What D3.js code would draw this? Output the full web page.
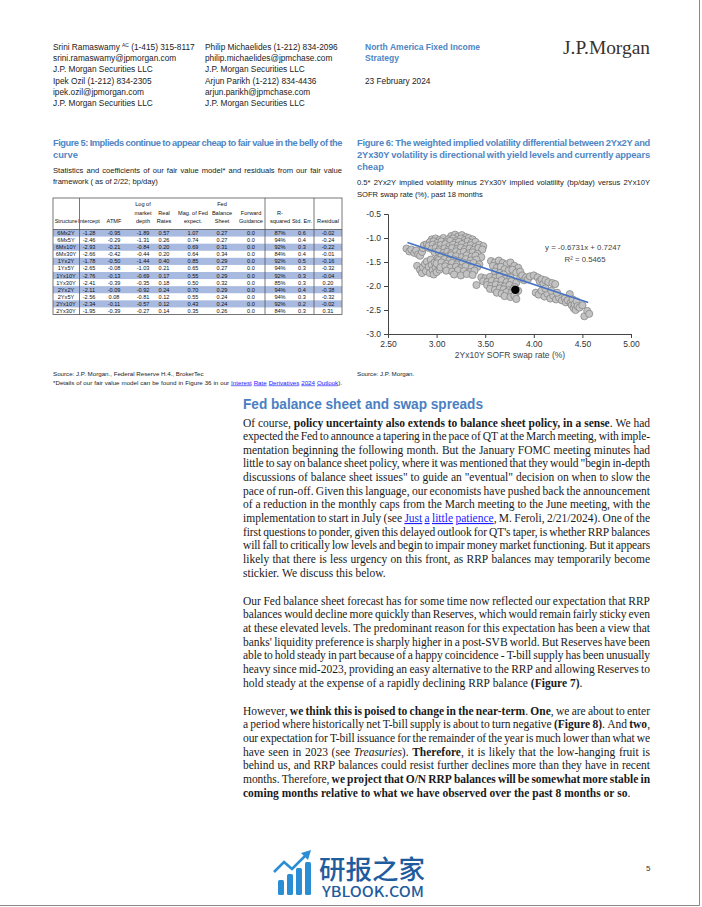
<!DOCTYPE html>
<html>
<head>
<meta charset="utf-8">
<script src="https://cdn.jsdelivr.net/npm/d3@7"></script>
<style>
  body { margin: 0; background: #fff; }
  svg { display: block; }
</style>
</head>
<body>
<svg id="page" width="702" height="907"></svg>
<script>

// ---- data ----

// figure 5 table
var tableCols = ["Structure", "Intercept", "ATMF", "Log of market depth", "Real Rates", "Mag. of Fed expect.",
  "Fed Balance Sheet", "Forward Guidance", "R-squared", "Std. Err.", "Residual"];
var tableHead = [
  ["", "", "Structure"], ["", "", "Intercept"], ["", "", "ATMF"], ["Log of", "market", "depth"],
  ["", "Real", "Rates"], ["", "Mag. of Fed", "expect."], ["Fed", "Balance", "Sheet"],
  ["", "Forward", "Guidance"], ["", "R-", "squared"], ["", "", "Std. Err."], ["", "", "Residual"]
];
var tableRows = [
  ["6Mx2Y", "-1.28", "-0.95", "-1.89", "0.57", "1.07", "0.27", "0.0", "87%", "0.6", "-0.02"],
  ["6Mx5Y", "-2.46", "-0.29", "-1.31", "0.26", "0.74", "0.27", "0.0", "94%", "0.4", "-0.24"],
  ["6Mx10Y", "-2.93", "-0.21", "-0.84", "0.20", "0.69", "0.31", "0.0", "92%", "0.3", "-0.22"],
  ["6Mx30Y", "-2.66", "-0.42", "-0.44", "0.20", "0.64", "0.34", "0.0", "84%", "0.4", "-0.01"],
  ["1Yx2Y", "-1.78", "-0.50", "-1.44", "0.40", "0.85", "0.29", "0.0", "92%", "0.5", "-0.16"],
  ["1Yx5Y", "-2.65", "-0.08", "-1.03", "0.21", "0.65", "0.27", "0.0", "94%", "0.3", "-0.32"],
  ["1Yx10Y", "-2.76", "-0.13", "-0.69", "0.17", "0.55", "0.29", "0.0", "92%", "0.3", "-0.04"],
  ["1Yx30Y", "-2.41", "-0.39", "-0.35", "0.18", "0.50", "0.32", "0.0", "85%", "0.3", "0.20"],
  ["2Yx2Y", "-2.11", "-0.09", "-0.92", "0.24", "0.70", "0.29", "0.0", "94%", "0.4", "-0.38"],
  ["2Yx5Y", "-2.56", "0.08", "-0.81", "0.12", "0.55", "0.24", "0.0", "94%", "0.3", "-0.32"],
  ["2Yx10Y", "-2.34", "-0.11", "-0.57", "0.12", "0.43", "0.24", "0.0", "92%", "0.2", "-0.02"],
  ["2Yx30Y", "-1.95", "-0.39", "-0.27", "0.14", "0.35", "0.26", "0.0", "84%", "0.3", "0.31"]
];

// figure 6 scatter: [2Yx10Y SOFR swap rate, weighted vol differential]
var volPts = [
  [2.69,-1.22],[2.72,-1.28],[2.74,-1.24],[2.77,-1.31],[2.79,-1.26],[2.81,-1.34],[2.83,-1.37],[2.85,-1.29],
  [2.86,-1.21],[2.87,-1.15],[2.90,-1.13],[2.91,-1.20],
  [2.80,-1.58],[2.83,-1.66],[2.85,-1.73],[2.86,-1.61],[2.88,-1.54],[2.89,-1.69],[2.90,-1.49],[2.92,-1.60],
  [2.93,-1.73],[2.94,-1.45],[2.95,-1.56],[2.96,-1.67],[2.97,-1.76],[2.98,-1.51],[2.99,-1.62],[3.00,-1.71],
  [3.01,-1.41],[3.02,-1.57],[3.03,-1.66],
  [3.15,-0.96],[3.19,-0.93],[3.22,-0.97],[3.26,-0.94],[3.30,-0.98],
  [2.95,-1.03],[2.99,-1.01],[3.03,-1.04],[3.07,-1.00],[3.12,-1.03],[3.17,-1.01],[3.21,-1.05],[3.25,-1.01],
  [3.29,-1.04],[3.33,-1.00],[3.37,-1.03],
  [2.93,-1.09],[2.97,-1.07],[3.01,-1.10],[3.05,-1.07],[3.10,-1.09],[3.14,-1.06],[3.19,-1.10],[3.23,-1.08],
  [3.28,-1.11],[3.32,-1.07],[3.36,-1.10],[3.40,-1.08],
  [2.92,-1.16],[2.96,-1.14],[3.00,-1.17],[3.04,-1.15],[3.09,-1.13],[3.13,-1.17],[3.17,-1.14],[3.22,-1.16],
  [3.26,-1.13],[3.31,-1.17],[3.35,-1.15],[3.40,-1.18],[3.44,-1.14],[3.48,-1.17],
  [2.95,-1.23],[2.99,-1.21],[3.03,-1.24],[3.08,-1.22],[3.12,-1.25],[3.16,-1.21],[3.21,-1.23],[3.25,-1.20],
  [3.29,-1.24],[3.34,-1.22],[3.38,-1.25],[3.43,-1.21],[3.47,-1.24],
  [2.98,-1.30],[3.02,-1.28],[3.07,-1.31],[3.11,-1.29],[3.15,-1.32],[3.20,-1.28],[3.24,-1.31],[3.28,-1.29],
  [3.33,-1.32],[3.37,-1.30],[3.42,-1.33],
  [3.05,-1.37],[3.10,-1.39],[3.15,-1.36],[3.20,-1.38],[3.26,-1.40],[3.31,-1.36],[3.36,-1.39],[3.40,-1.37],[3.46,-1.40],
  [3.02,-1.46],[3.08,-1.44],[3.13,-1.47],[3.18,-1.45],[3.23,-1.48],[3.30,-1.44],[3.35,-1.47],[3.41,-1.45],
  [3.00,-1.53],[3.05,-1.51],[3.10,-1.54],[3.16,-1.52],[3.21,-1.55],[3.27,-1.51],[3.33,-1.54],[3.38,-1.52],[3.44,-1.55],
  [3.04,-1.61],[3.09,-1.59],[3.14,-1.62],[3.20,-1.60],[3.25,-1.63],[3.30,-1.59],[3.36,-1.62],[3.42,-1.60],
  [3.10,-1.68],[3.16,-1.70],[3.22,-1.67],[3.28,-1.69],[3.34,-1.71],[3.39,-1.68],
  [3.18,-1.76],[3.25,-1.78],[3.31,-1.75],[3.37,-1.77],[3.41,-1.98],
  [3.56,-1.48],[3.60,-1.51],[3.64,-1.47],[3.68,-1.52],[3.72,-1.55],[3.76,-1.51],[3.80,-1.58],[3.84,-1.62],
  [3.58,-1.58],[3.62,-1.62],[3.66,-1.60],[3.70,-1.65],[3.74,-1.68],[3.78,-1.66],[3.82,-1.72],[3.86,-1.70],
  [3.60,-1.70],[3.65,-1.73],[3.69,-1.76],
  [3.46,-1.82],[3.50,-1.84],[3.55,-1.81],[3.60,-1.83],[3.65,-1.80],[3.71,-1.84],[3.76,-1.82],
  [3.48,-1.90],[3.52,-1.92],[3.57,-1.89],[3.62,-1.91],[3.67,-1.88],[3.72,-1.92],[3.77,-1.90],[3.82,-1.93],
  [3.52,-1.98],[3.56,-2.00],[3.61,-1.97],[3.66,-1.99],[3.70,-2.01],[3.75,-1.98],[3.80,-2.02],
  [3.55,-2.06],[3.60,-2.08],[3.65,-2.05],[3.69,-2.07],[3.74,-2.09],[3.79,-2.06],[3.84,-2.10],
  [3.62,-2.14],[3.67,-2.16],[3.72,-2.13],[3.77,-2.15],[3.81,-2.18],
  [3.70,-2.21],[3.76,-2.23],[3.80,-2.20],[3.82,-2.27],
  [3.86,-1.84],[3.88,-1.78],[3.90,-1.88],[3.92,-1.82],[3.94,-1.86],[3.96,-1.80],[4.00,-1.78],[4.04,-1.82],
  [4.06,-1.90],[4.08,-1.86],[4.10,-1.95],[4.12,-1.88],[4.15,-1.92],[4.19,-1.94],[4.22,-1.96],
  [4.02,-2.14],[4.05,-2.18],[4.08,-2.10],[4.11,-2.22],[4.14,-2.16],[4.17,-2.26],[4.20,-2.20],[4.23,-2.28],
  [4.26,-2.24],[4.29,-2.30],[4.32,-2.26],[4.12,-2.05],[4.18,-2.10],[4.24,-2.14],
  [4.37,-2.17],[4.33,-2.34],[4.35,-2.30],[4.38,-2.35],[4.39,-2.40],[4.40,-2.28],[4.41,-2.46],[4.42,-2.38],
  [4.43,-2.50],[4.44,-2.32],[4.45,-2.42],[4.47,-2.45],[4.50,-2.40],[4.52,-2.63],[4.55,-2.52],[4.57,-2.58]
];
var latestPt = [3.81, -2.08];
var fitSlope = -0.6731, fitIntercept = 0.7247, fitRange = [2.70, 4.56];
var xTicks = [2.5, 3.0, 3.5, 4.0, 4.5, 5.0];
var yTicks = [-0.5, -1.0, -1.5, -2.0, -2.5, -3.0];

// page text (~ bold, _ italic, [ ] link, ^ superscript)
var para1 = [
  "Of course, ~policy uncertainty also extends to balance sheet policy, in a sense~. We had",
  "expected the Fed to announce a tapering in the pace of QT at the March meeting, with imple-",
  "mentation beginning the following month. But the January FOMC meeting minutes had",
  "little to say on balance sheet policy, where it was mentioned that they would \"begin in-depth",
  "discussions of balance sheet issues\" to guide an \"eventual\" decision on when to slow the",
  "pace of run-off. Given this language, our economists have pushed back the announcement",
  "of a reduction in the monthly caps from the March meeting to the June meeting, with the",
  "implementation to start in July (see [Just a little patience], M. Feroli, 2/21/2024). One of the",
  "first questions to ponder, given this delayed outlook for QT's taper, is whether RRP balances",
  "will fall to critically low levels and begin to impair money market functioning. But it appears",
  "likely that there is less urgency on this front, as RRP balances may temporarily become",
  "stickier. We discuss this below."
];
var para2 = [
  "Our Fed balance sheet forecast has for some time now reflected our expectation that RRP",
  "balances would decline more quickly than Reserves, which would remain fairly sticky even",
  "at these elevated levels. The predominant reason for this expectation has been a view that",
  "banks' liquidity preference is sharply higher in a post-SVB world. But Reserves have been",
  "able to hold steady in part because of a happy coincidence - T-bill supply has been unusually",
  "heavy since mid-2023, providing an easy alternative to the RRP and allowing Reserves to",
  "hold steady at the expense of a rapidly declining RRP balance ~(Figure 7)~."
];
var para3 = [
  "However, ~we think this is poised to change in the near-term~. ~One~, we are about to enter",
  "a period where historically net T-bill supply is about to turn negative ~(Figure 8)~. And ~two~,",
  "our expectation for T-bill issuance for the remainder of the year is much lower than what we",
  "have seen in 2023 (see _Treasuries_). ~Therefore~, it is likely that the low-hanging fruit is",
  "behind us, and RRP balances could resist further declines more than they have in recent",
  "months. Therefore, ~we project that O/N RRP balances will be somewhat more stable in~",
  "~coming months relative to what we have observed over the past 8 months or so~."
];

var blue = "#4f86c4";
var sans = "Liberation Sans, Arial, sans-serif";
var serif = "Liberation Serif, Times New Roman, serif";

var svg = d3.select("#page");
svg.append("rect").attr("width", 702).attr("height", 907).attr("fill", "#fff");

// split a marked-up line into words made of styled pieces
function parseLine(line) {
  var words = [], segs = [], cur = "", st = {b: false, i: false, a: false, s: false};
  function push() {
    if (cur) segs.push({t: cur, b: st.b, i: st.i, a: st.a, s: st.s});
    cur = "";
  }
  for (var k = 0; k < line.length; k++) {
    var c = line[k];
    if (c == "~") { push(); st.b = !st.b; }
    else if (c == "_") { push(); st.i = !st.i; }
    else if (c == "[") { push(); st.a = true; }
    else if (c == "]") { push(); st.a = false; }
    else if (c == "^") { push(); st.s = !st.s; }
    else if (c == " ") { push(); if (segs.length) words.push(segs); segs = []; }
    else cur += c;
  }
  push();
  if (segs.length) words.push(segs);
  return words;
}

// lays out lines word by word, justified to o.w where asked
function textBlock(lines, o) {
  lines.forEach(function(line, i) {
    var row = svg.append("g");
    var words = parseLine(line);
    var chars = words.map(function(segs) { return d3.sum(segs, function(s) { return s.t.length; }); });
    var texts = words.map(function(segs) {
      var t = row.append("text")
        .attr("y", o.y + i * (o.lh || 0))
        .attr("font-family", o.font)
        .attr("font-size", o.size)
        .attr("font-weight", o.weight || "normal")
        .attr("fill", o.color);
      segs.forEach(function(s) {
        var ts = t.append("tspan").text(s.t);
        if (s.b) ts.attr("font-weight", "bold");
        if (s.i) ts.attr("font-style", "italic");
        if (s.a) ts.attr("fill", "#1a1aff").attr("text-decoration", "underline");
        if (s.s) ts.attr("font-size", o.size * 0.6).attr("baseline-shift", "super");
      });
      return t;
    });
    var wd = texts.map(function(t) { return t.node().getComputedTextLength(); });
    var n = texts.length, sum = d3.sum(wd);
    var sp = o.size * (o.space || 0.27), gap = sp;
    var last = i == lines.length - 1 && !o.all;
    if (o.justify && !last && n > 1) gap = (o.w - sum) / (n - 1);
    if (o.w && (gap < sp * 0.75 || sum + gap * (n - 1) > o.w)) {
      gap = Math.min(gap, sp);
      if (gap < sp * 0.75) gap = sp * 0.75;
      var over = sum + gap * (n - 1) - o.w;
      if (over > 0) {
        var ls = -over / d3.sum(chars);
        texts.forEach(function(t, k) { t.attr("letter-spacing", ls); wd[k] += ls * chars[k]; });
      }
    }
    var cx = 0;
    texts.forEach(function(t, k) { t.attr("x", cx); cx += wd[k] + gap; });
    row.attr("transform", "translate(" + o.x + ",0)");
  });
}

// ---- page header ----
var hdr = {size: 8.3, font: sans, color: "#222", lh: 11};
textBlock(["Srini Ramaswamy ^AC^ (1-415) 315-8117", "srini.ramaswamy@jpmorgan.com", "J.P. Morgan Securities LLC"],
  Object.assign({x: 53, y: 50}, hdr));
textBlock(["Ipek Ozil  (1-212) 834-2305", "ipek.ozil@jpmorgan.com", "J.P. Morgan Securities LLC"],
  Object.assign({x: 53, y: 84}, hdr));
textBlock(["Philip Michaelides  (1-212) 834-2096", "philip.michaelides@jpmchase.com", "J.P. Morgan Securities LLC"],
  Object.assign({x: 205, y: 50}, hdr));
textBlock(["Arjun Parikh  (1-212) 834-4436", "arjun.parikh@jpmchase.com", "J.P. Morgan Securities LLC"],
  Object.assign({x: 205, y: 84}, hdr));
textBlock(["North America Fixed Income", "Strategy"],
  {x: 365, y: 50, lh: 11, size: 8.5, font: sans, color: blue, weight: "bold"});
textBlock(["23 February 2024"], Object.assign({x: 365, y: 84}, hdr));

svg.append("text")
  .attr("x", 563).attr("y", 54)
  .attr("font-family", serif).attr("font-size", 19)
  .attr("fill", "#3b302b")
  .attr("textLength", 87).attr("lengthAdjust", "spacingAndGlyphs")
  .text("J.P.Morgan");

// ---- figure 5: fair value table ----
textBlock(["Figure 5: Implieds continue to appear cheap to fair value in the belly of the", "curve"],
  {x: 53, y: 146, w: 289, lh: 12, size: 9.3, font: sans, color: blue, weight: "bold", justify: true});
textBlock(["Statistics and coefficients of our fair value model* and residuals from our fair value",
  "framework ( as of 2/22; bp/day)"],
  {x: 53, y: 172.5, w: 289, lh: 11.5, size: 7.6, font: sans, color: "#222", justify: true});

var colX = [66, 89, 114, 143, 164, 193, 222, 251, 280, 302, 328];
var tbl = {left: 53, right: 342, top: 198, headBottom: 229.5, bottom: 314.5};

var rowY = d3.scaleBand()
  .domain(tableRows.map(function(d) { return d[0]; }))
  .range([tbl.headBottom, tbl.bottom]);

var tg = svg.append("g").attr("class", "table");

tg.selectAll(".band")
  .data(tableRows.filter(function(d, i) { return i % 2 == 0; }))
  .enter().append("rect")
    .attr("x", tbl.left)
    .attr("y", function(d) { return rowY(d[0]); })
    .attr("width", tbl.right - tbl.left)
    .attr("height", rowY.bandwidth())
    .attr("fill", "#a9bae0");

tableHead.forEach(function(lines, c) {
  lines.forEach(function(t, k) {
    if (!t) return;
    tg.append("text")
      .attr("x", colX[c]).attr("y", 206 + k * 8.5)
      .attr("text-anchor", "middle")
      .attr("font-family", sans).attr("font-size", 5.6)
      .attr("fill", "#111")
      .text(t);
  });
});

tg.selectAll(".trow")
  .data(tableRows)
  .enter().append("g")
    .attr("transform", function(d) { return "translate(0," + (rowY(d[0]) + rowY.bandwidth() / 2 + 2) + ")"; })
  .selectAll("text")
  .data(function(d) { return d; })
  .enter().append("text")
    .attr("x", function(d, i) { return colX[i]; })
    .attr("text-anchor", "middle")
    .attr("font-family", sans).attr("font-size", 5.6)
    .attr("fill", "#111")
    .text(function(d) { return d; });

tg.append("rect")
  .attr("x", tbl.left).attr("y", tbl.top)
  .attr("width", tbl.right - tbl.left).attr("height", tbl.bottom - tbl.top)
  .attr("fill", "none").attr("stroke", "#555").attr("stroke-width", 0.8);
tg.append("line")
  .attr("x1", tbl.left).attr("x2", tbl.right)
  .attr("y1", tbl.headBottom).attr("y2", tbl.headBottom)
  .attr("stroke", "#555").attr("stroke-width", 0.8);
[79.5, 265, 314].forEach(function(vx) {
  tg.append("line")
    .attr("x1", vx).attr("x2", vx).attr("y1", tbl.top).attr("y2", tbl.bottom)
    .attr("stroke", "#555").attr("stroke-width", 0.8);
});

textBlock(["Source: J.P. Morgan., Federal Reserve H.4., BrokerTec"],
  {x: 53, y: 375.5, size: 6.2, font: sans, color: "#222"});
textBlock(["*Details of our fair value model can be found in Figure 36 in our [Interest Rate Derivatives 2024 Outlook])."],
  {x: 53, y: 384.5, w: 289, size: 6.2, font: sans, color: "#222", justify: true, all: true});

// ---- figure 6: vol differential vs rate ----
textBlock(["Figure 6: The weighted implied volatility differential between 2Yx2Y and",
  "2Yx30Y volatility is directional with yield levels and currently appears", "cheap"],
  {x: 357, y: 146, w: 293, lh: 12, size: 9.3, font: sans, color: blue, weight: "bold", justify: true});
textBlock(["0.5* 2Yx2Y implied volatility minus 2Yx30Y implied volatility (bp/day) versus 2Yx10Y",
  "SOFR swap rate (%), past 18 months"],
  {x: 357, y: 184.5, w: 293, lh: 12, size: 7.6, font: sans, color: "#222", justify: true});

var x = d3.scaleLinear().domain([2.5, 5.0]).range([388, 631]);
var y = d3.scaleLinear().domain([-3.0, -0.5]).range([334, 214]);

var cg = svg.append("g").attr("class", "chart");

cg.selectAll(".pt")
  .data(volPts)
  .enter().append("circle")
    .attr("cx", function(d) { return x(d[0]); })
    .attr("cy", function(d) { return y(d[1]); })
    .attr("r", 3.6)
    .attr("fill", "#c3c3c3")
    .attr("stroke", "#7f7f7f")
    .attr("stroke-width", 0.7);

var fitLine = d3.line()
  .x(function(d) { return x(d); })
  .y(function(d) { return y(fitSlope * d + fitIntercept); });

cg.append("path")
  .datum(fitRange)
  .attr("d", fitLine)
  .attr("fill", "none")
  .attr("stroke", "#4472c4")
  .attr("stroke-width", 1.6);

cg.append("circle")
  .attr("cx", x(latestPt[0]))
  .attr("cy", y(latestPt[1]))
  .attr("r", 4.2)
  .attr("fill", "#000");

cg.append("g")
    .attr("class", "axis")
    .attr("transform", "translate(0," + y(-3.0) + ")")
    .call(d3.axisBottom(x).tickValues(xTicks).tickSize(4).tickPadding(3)
      .tickFormat(function(d) { return d.toFixed(2); }));

cg.append("g")
    .attr("class", "axis")
    .attr("transform", "translate(" + x(2.5) + ",0)")
    .call(d3.axisLeft(y).tickValues(yTicks).tickSize(4).tickPadding(3)
      .tickFormat(function(d) { return d.toFixed(1); }));

cg.selectAll(".axis path, .axis line").attr("stroke", "#444");
cg.selectAll(".axis text")
  .attr("font-family", sans).attr("font-size", 8.5).attr("fill", "#333");

cg.append("text")
  .attr("x", 510).attr("y", 357.5)
  .attr("text-anchor", "middle")
  .attr("font-family", sans).attr("font-size", 8.5).attr("fill", "#444")
  .text("2Yx10Y SOFR swap rate (%)");

cg.append("text")
  .attr("x", 583).attr("y", 250)
  .attr("text-anchor", "middle")
  .attr("font-family", sans).attr("font-size", 7.8).attr("fill", "#444")
  .text("y = -0.6731x + 0.7247");
cg.append("text")
  .attr("x", 585).attr("y", 261.5)
  .attr("text-anchor", "middle")
  .attr("font-family", sans).attr("font-size", 7.8).attr("fill", "#444")
  .text("R\u00b2 = 0.5465");

textBlock(["Source: J.P. Morgan."], {x: 357, y: 375.5, size: 6.2, font: sans, color: "#222"});

// ---- body text ----
svg.append("text")
  .attr("x", 243).attr("y", 409)
  .attr("font-family", sans).attr("font-size", 14.5).attr("font-weight", "bold")
  .attr("fill", "#4a80c2")
  .attr("textLength", 240).attr("lengthAdjust", "spacingAndGlyphs")
  .text("Fed balance sheet and swap spreads");

var body = {x: 243, w: 407, lh: 13.64, size: 11.5, font: serif, color: "#1a1a1a", justify: true, space: 0.25};
textBlock(para1, Object.assign({y: 426.5}, body));
textBlock(para2, Object.assign({y: 604.7}, body));
textBlock(para3, Object.assign({y: 714.7}, body));

// ---- footer ----
var wm = svg.append("g").attr("class", "watermark");
[[278, 880], [287, 874], [296, 868], [305, 862]].forEach(function(b) {
  wm.append("rect")
    .attr("x", b[0]).attr("y", b[1]).attr("width", 6).attr("height", 895 - b[1])
    .attr("rx", 1.5).attr("fill", "#2b8ed4");
});
wm.append("path")
  .attr("d", "M274,872 L284,862 L292,869 L306,855")
  .attr("fill", "none").attr("stroke", "#2b8ed4").attr("stroke-width", 2.6);
wm.append("path")
  .attr("d", "M301,853 L311,850 L308,860 Z")
  .attr("fill", "#2b8ed4");
wm.append("text")
  .attr("x", 319).attr("y", 879)
  .attr("font-family", "Noto Sans CJK SC").attr("font-size", 26).attr("font-weight", 500)
  .attr("fill", "#1f5c9e")
  .attr("textLength", 106).attr("lengthAdjust", "spacingAndGlyphs")
  .text("研报之家");
wm.append("text")
  .attr("x", 322).attr("y", 897)
  .attr("font-family", "Noto Sans CJK SC, Noto Sans").attr("font-size", 14).attr("font-weight", 500)
  .attr("fill", "#1f5c9e")
  .attr("textLength", 102).attr("lengthAdjust", "spacingAndGlyphs")
  .text("YBLOOK.COM");

svg.append("text")
  .attr("x", 646).attr("y", 871)
  .attr("font-family", sans).attr("font-size", 8).attr("fill", "#333")
  .text("5");

svg.append("path")
  .attr("d", "M699.5,0 V905.5 H0")
  .attr("fill", "none").attr("stroke", "#888").attr("stroke-width", 1);

</script>
</body>
</html>
